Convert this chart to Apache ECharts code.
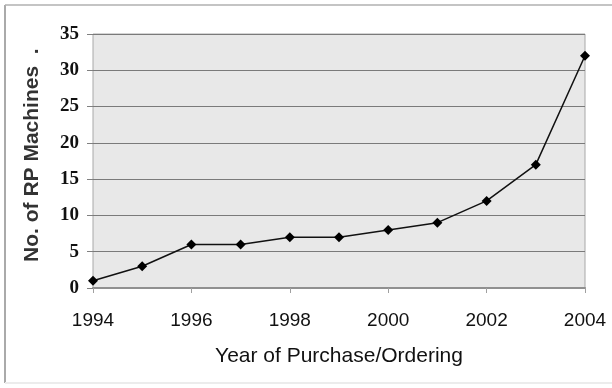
<!DOCTYPE html>
<html>
<head>
<meta charset="utf-8">
<script src="https://cdn.jsdelivr.net/npm/echarts@6/dist/echarts.min.js"></script>
<style>
html,body{margin:0;padding:0;background:#fff;}
#chart{width:612px;height:388px;}
</style>
</head>
<body>
<div id="chart"></div>
<script>
// years and number of RP machines
var years = [1994, 1995, 1996, 1997, 1998, 1999, 2000, 2001, 2002, 2003, 2004];
var machines = [1, 3, 6, 6, 7, 7, 8, 9, 12, 17, 32];
var yTicks = [0, 5, 10, 15, 20, 25, 30, 35];

var pts = [];
for (var i = 0; i < years.length; i++) {
	pts.push([years[i], machines[i]]);
}

var myChart = echarts.init(document.getElementById('chart'));
var option = {
	animation: false,
	graphic: [
		// outer frame: left and top darker, bottom faint
		{type: 'line', shape: {x1: 5, y1: 5, x2: 5, y2: 383}, style: {stroke: '#aaaaaa', lineWidth: 2}},
		{type: 'line', shape: {x1: 5, y1: 5, x2: 612, y2: 5}, style: {stroke: '#b0b0b0', lineWidth: 1.5}},
		{type: 'line', shape: {x1: 5, y1: 383, x2: 612, y2: 383}, style: {stroke: '#ececec', lineWidth: 2}}
	],
	grid: {
		left: 93,
		right: 27,
		top: 34,
		bottom: 100,
		show: true,
		backgroundColor: '#e8e8e8',
		borderColor: '#a8a8a8',
		borderWidth: 1
	},
	xAxis: {
		type: 'value',
		min: 1994,
		max: 2004,
		interval: 2,
		name: 'Year of Purchase/Ordering',
		nameLocation: 'middle',
		nameGap: 58,
		nameTextStyle: {fontFamily: 'Liberation Sans', fontSize: 21, color: '#111'},
		axisLine: {show: true, lineStyle: {color: '#909090', width: 2}},
		axisTick: {show: true, length: 5, lineStyle: {color: '#a0a0a0'}},
		splitLine: {show: false},
		axisLabel: {
			margin: 23,
			fontFamily: 'Liberation Sans',
			fontSize: 19,
			color: '#111',
			formatter: function (v) { return String(v); }
		}
	},
	yAxis: {
		type: 'value',
		min: yTicks[0],
		max: yTicks[yTicks.length - 1],
		interval: 5,
		name: '  No. of RP Machines  .',
		nameLocation: 'middle',
		nameGap: 50,
		nameTextStyle: {fontFamily: 'Liberation Sans', fontSize: 21, fontWeight: 'bold', color: '#333'},
		axisLine: {show: false},
		axisTick: {show: true, length: 6, lineStyle: {color: '#808080'}},
		splitLine: {show: true, lineStyle: {color: '#7a7a7a', width: 1}},
		axisLabel: {
			margin: 14,
			fontFamily: 'Liberation Serif',
			fontSize: 19,
			fontWeight: 'bold',
			color: '#111'
		}
	},
	series: [{
		type: 'line',
		data: pts,
		symbol: 'diamond',
		symbolSize: 10,
		itemStyle: {color: '#000'},
		lineStyle: {color: '#111', width: 1.5},
		clip: false
	}]
};
myChart.setOption(option);
</script>
</body>
</html>
